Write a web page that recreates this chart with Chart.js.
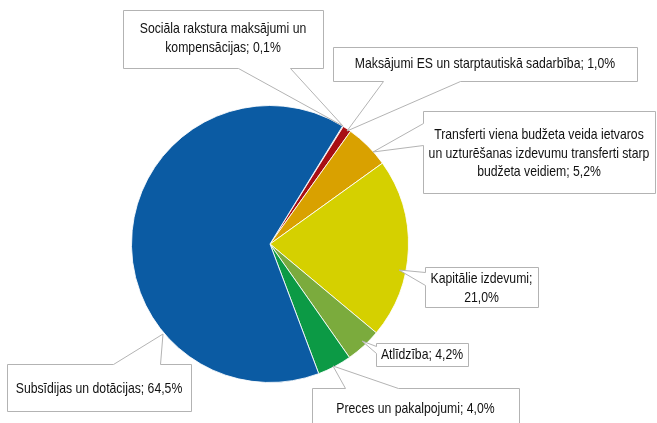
<!DOCTYPE html>
<html lang="lv">
<head>
<meta charset="UTF-8">
<title>Izdevumi</title>
<script src="https://cdn.jsdelivr.net/npm/chart.js"></script>
<style>
  html, body { margin: 0; padding: 0; background: #fff; }
  #wrap { width: 657px; height: 423px; }
</style>
</head>
<body>
<div id="wrap"><canvas id="myChart" width="657" height="423"></canvas></div>
<script>
// dati, pulksteņrādītāja virzienā no augšas
const categories = [
  'Sociāla rakstura maksājumi un kompensācijas',
  'Maksājumi ES un starptautiskā sadarbība',
  'Transferti viena budžeta veida ietvaros un uzturēšanas izdevumu transferti starp budžeta veidiem',
  'Kapitālie izdevumi',
  'Atlīdzība',
  'Preces un pakalpojumi',
  'Subsīdijas un dotācijas'
];
const shares = [0.1, 1.0, 5.2, 21.0, 4.2, 4.0, 64.5];
const colors = ['#b5121b', '#a80f14', '#d9a100', '#d5d000', '#7bab3d', '#0c9a45', '#0b5ba3'];

// etiķešu rindas (teksts no kategorijām + vērtības)
const labelLines = [
  ['Sociāla rakstura maksājumi un', 'kompensācijas; {v}'],
  ['Maksājumi ES un starptautiskā sadarbība; {v}'],
  ['Transferti viena budžeta veida ietvaros', 'un uzturēšanas izdevumu transferti starp', 'budžeta veidiem; {v}'],
  ['Kapitālie izdevumi;', '{v}'],
  ['Atlīdzība; {v}'],
  ['Preces un pakalpojumi; {v}'],
  ['Subsīdijas un dotācijas; {v}']
];

// izsaukumu rāmji (izkārtojums)
const callouts = [
  { x: 123, y: 10, w: 200, h: 58, side: 'bottom', a: 238, b: 290, tip: [343, 126], ty: 29 },
  { x: 333, y: 47, w: 304, h: 34, side: 'bottom', a: 383, b: 460, tip: [347, 131], ty: 64 },
  { x: 423, y: 111, w: 232, h: 82, side: 'left', a: 123, b: 145, tip: [373, 152], ty: 135 },
  { x: 425, y: 267, w: 113, h: 40, side: 'left', a: 272, b: 285, tip: [399, 270], ty: 279 },
  { x: 376, y: 343, w: 92, h: 23, side: 'left', a: 346, b: 353, tip: [362, 341], ty: 355 },
  { x: 312, y: 388, w: 207, h: 50, side: 'top', a: 345, b: 398, tip: [333, 366], ty: 409 },
  { x: 7, y: 364, w: 184, h: 47, side: 'top', a: 113, b: 160, tip: [163, 334], ty: 389 }
];

const squeeze = 0.815;

function fmt(v) { return v.toFixed(1).replace('.', ',') + '%'; }

const calloutPlugin = {
  id: 'callouts',
  afterDraw(chart) {
    const ctx = chart.ctx;
    ctx.save();
    callouts.forEach((c, i) => {
      const L = c.x + 0.5, T = c.y + 0.5, R = c.x + c.w + 0.5, B = c.y + c.h + 0.5;
      ctx.beginPath();
      ctx.moveTo(L, T);
      if (c.side === 'top') { ctx.lineTo(c.a + 0.5, T); ctx.lineTo(c.tip[0], c.tip[1]); ctx.lineTo(c.b + 0.5, T); }
      ctx.lineTo(R, T);
      ctx.lineTo(R, B);
      if (c.side === 'bottom') { ctx.lineTo(c.b + 0.5, B); ctx.lineTo(c.tip[0], c.tip[1]); ctx.lineTo(c.a + 0.5, B); }
      ctx.lineTo(L, B);
      if (c.side === 'left') { ctx.lineTo(L, c.b + 0.5); ctx.lineTo(c.tip[0], c.tip[1]); ctx.lineTo(L, c.a + 0.5); }
      ctx.closePath();
      ctx.fillStyle = '#ffffff';
      ctx.fill();
      ctx.strokeStyle = '#b3b3b3';
      ctx.lineWidth = 1;
      ctx.stroke();

      ctx.save();
      ctx.fillStyle = '#111111';
      ctx.font = '15px "Liberation Sans", Arial, sans-serif';
      ctx.textAlign = 'center';
      ctx.textBaseline = 'middle';
      ctx.translate(c.x + c.w / 2, 0);
      ctx.scale(squeeze, 1);
      const lines = labelLines[i].map(s => s.replace('{v}', fmt(shares[i])));
      lines.forEach((s, k) => {
        ctx.fillText(s, 0, c.ty + k * 18.5);
      });
      ctx.restore();
    });
    ctx.restore();
  }
};

const ctx = document.getElementById('myChart').getContext('2d');
const myChart = new Chart(ctx, {
  type: 'pie',
  data: {
    labels: categories,
    datasets: [{
      data: shares,
      backgroundColor: colors,
      borderColor: 'rgba(255,255,255,0.85)',
      borderWidth: 1,
      hoverOffset: 0
    }]
  },
  options: {
    responsive: false,
    animation: false,
    rotation: 31.6,
    layout: { padding: { left: 131, right: 248, top: 105, bottom: 40 } },
    plugins: {
      legend: { display: false },
      tooltip: { enabled: false }
    }
  },
  plugins: [calloutPlugin]
});
</script>
</body>
</html>
